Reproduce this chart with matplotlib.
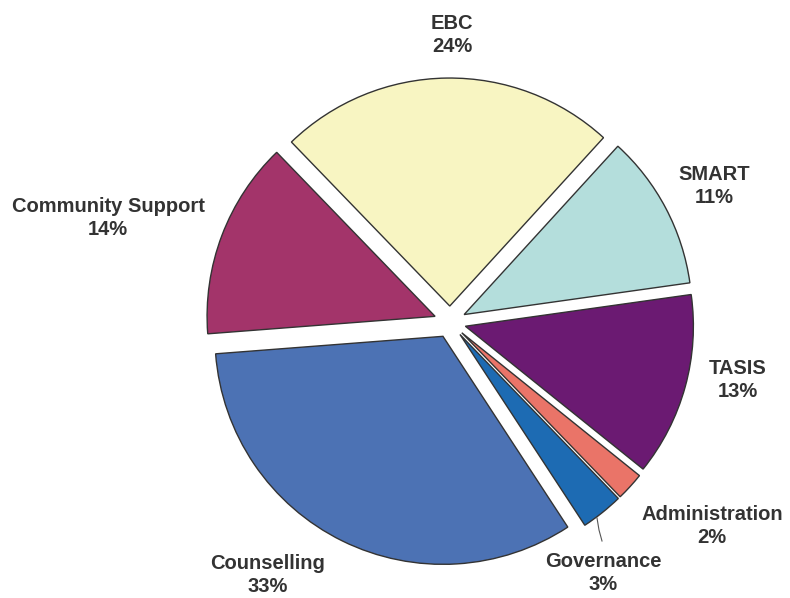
import matplotlib
matplotlib.use("Agg")
import matplotlib.pyplot as plt

categories = ["EBC", "SMART", "TASIS", "Administration", "Governance", "Counselling", "Community Support"]
values = [24, 11, 13, 2, 3, 33, 14]
colors = ["#F8F5C2", "#B4DEDC", "#6B1A72", "#EA7468", "#1D6BB3", "#4C72B4", "#A3346A"]

# label positions in figure pixels (x, y from top)
label_pos = {
    "EBC": (452, 35),
    "SMART": (714, 186),
    "TASIS": (738, 380),
    "Administration": (712, 526),
    "Governance": (603, 573),
    "Counselling": (268, 575),
    "Community Support": (108, 218),
}

W, H = 790, 598
fig = plt.figure(figsize=(W / 100, H / 100), dpi=100)
ax = fig.add_axes([0, 0, 1, 1])

total = sum(values)
start = 90 + 360 * values[0] / total / 2  # EBC centred near the top
ax.pie(values, colors=colors, startangle=start + 0.8, counterclock=False,
       explode=[0.07] * len(values),
       wedgeprops=dict(edgecolor="#333333", linewidth=1.0))

cx, cy, r = 450, 322, 228
ax.set_aspect("auto")
ax.set_xlim(-cx / r, (W - cx) / r)
ax.set_ylim(-(H - cy) / r, cy / r)
ax.axis("off")

for name, v in zip(categories, values):
    px, py = label_pos[name]
    fig.text(px / W, 1 - py / H, f"{name}\n{v}%", ha="center", va="center",
             fontsize=14.5, fontweight="bold", family="Liberation Sans",
             color="#333333", linespacing=1.3)

# leader line for Governance
ax.plot([(597 - cx) / r, (599 - cx) / r, (602 - cx) / r],
        [(cy - 518) / r, (cy - 530) / r, (cy - 541) / r],
        color="#555555", linewidth=0.8)

fig.savefig("out.png", dpi=100)
